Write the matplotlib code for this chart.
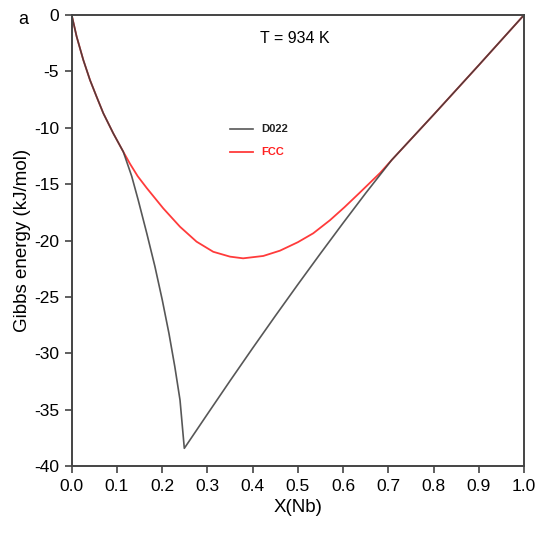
import matplotlib
matplotlib.use("Agg")
import matplotlib.pyplot as plt

plt.rcParams['font.family'] = ['Liberation Sans', 'DejaVu Sans']

# FCC curve (x, G kJ/mol)
fcc_x = [0.0, 0.011, 0.0257, 0.0405, 0.055, 0.070, 0.092, 0.114, 0.129, 0.146, 0.166,
         0.2025, 0.2395, 0.276, 0.313, 0.35, 0.379, 0.4236, 0.4605, 0.50, 0.534, 0.571,
         0.603, 0.637, 0.682, 0.7075, 0.80, 0.90, 1.0]
fcc_y = [0.0, -1.92, -3.99, -5.77, -7.24, -8.72, -10.5, -12.12, -13.2, -14.3, -15.35,
         -17.15, -18.78, -20.1, -21.0, -21.43, -21.58, -21.37, -20.9, -20.15, -19.36, -18.2,
         -17.05, -15.75, -14.0, -12.86, -8.85, -4.45, 0.0]

# D022 curve
d022_x = [0.0, 0.011, 0.0257, 0.0405, 0.055, 0.070, 0.092, 0.114, 0.1327, 0.147, 0.166,
          0.184, 0.2003, 0.215, 0.228, 0.2395, 0.249, 0.30, 0.35, 0.40,
          0.45, 0.50, 0.55, 0.60, 0.65, 0.7075, 0.80, 0.90, 1.0]
d022_y = [0.0, -1.92, -3.99, -5.77, -7.24, -8.72, -10.5, -12.12, -14.3, -16.4, -19.36,
          -22.3, -25.28, -28.23, -31.19, -34.15, -38.43, -35.4, -32.45, -29.55,
          -26.7, -23.9, -21.15, -18.45, -15.8, -12.86, -8.85, -4.45, 0.0]

x_ticks = [0.0, 0.1, 0.2, 0.3, 0.4, 0.5, 0.6, 0.7, 0.8, 0.9, 1.0]
y_ticks = [0, -5, -10, -15, -20, -25, -30, -35, -40]

fig = plt.figure(figsize=(5.41, 5.34), dpi=100)
ax = fig.add_axes([0.1325, 0.1273, 0.8361, 0.8446])

ax.plot(fcc_x, fcc_y, color='#ff3b3b', lw=1.3, label='FCC')
ax.plot(d022_x, d022_y, color='#3a3a3a', lw=1.2, alpha=0.85, label='D022')

ax.set_xlim(0, 1)
ax.set_ylim(-40, 0)
ax.set_xticks(x_ticks)
ax.set_xticklabels([f"{v:.1f}" for v in x_ticks])
ax.set_yticks(y_ticks)
ax.set_yticklabels([str(v) for v in y_ticks])

for s in ax.spines.values():
    s.set_color('#444444')
    s.set_linewidth(1.4)
ax.tick_params(direction='out', length=5, width=1.2, color='#444444', labelsize=12.5, pad=4)

ax.set_xlabel('X(Nb)', fontsize=13.5)
ax.set_ylabel('Gibbs energy (kJ/mol)', fontsize=13.5, labelpad=2)

ax.text(0.494, -2.05, 'T = 934 K', fontsize=11.5, ha='center', va='center')
fig.text(18/541, 1 - 20/534, 'a', fontsize=13, ha='left', va='center')

# legend drawn manually in axes coordinates
ax.plot([0.35, 0.40], [0.747, 0.747], transform=ax.transAxes, color='#3a3a3a', lw=1.2, alpha=0.85)
ax.text(0.42, 0.747, 'D022', transform=ax.transAxes, fontsize=8, fontweight='bold',
        color='#222222', va='center', ha='left')
ax.plot([0.35, 0.40], [0.697, 0.697], transform=ax.transAxes, color='#ff3b3b', lw=1.3)
ax.text(0.42, 0.697, 'FCC', transform=ax.transAxes, fontsize=8, fontweight='bold',
        color='#ff2020', va='center', ha='left')

fig.savefig('out.png', dpi=100)
